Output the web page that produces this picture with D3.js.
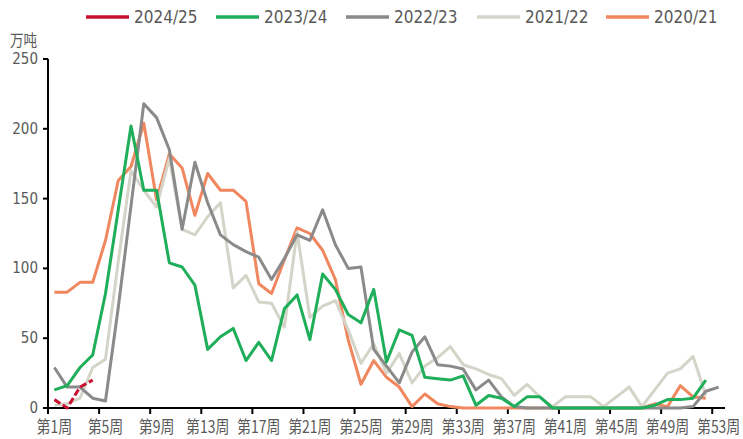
<!DOCTYPE html>
<html><head><meta charset="utf-8">
<script src="https://cdn.jsdelivr.net/npm/d3@7"></script>
<style>
html,body{margin:0;padding:0;background:#fff;}
svg{display:block;}
</style></head>
<body>
<svg id="chart" width="743" height="439"></svg>
<script>
const weeks = d3.range(1, 54);
const tickWeeks = [1,5,9,13,17,21,25,29,33,37,41,45,49,53];
const yTicks = [0,50,100,150,200,250];
const seriesNames = ["2024/25","2023/24","2022/23","2021/22","2020/21"];
const seriesColors = ["#c8102e","#1fae5a","#8a8a8a","#d4d4c8","#f0875f"];

const s2425 = [6,0,15,20];
const s2324 = [13,16,29,38,82,142,202,156,156,104,101,88,42,51,57,34,47,34,71,81,49,96,85,67,61,85,33,56,52,22,21,20,23,2,9,7,1,8,8,0,0,0,0,0,0,0,0,2,6,6,7,20,null];
const s2223 = [29,15,15,7,5,72,145,218,208,185,128,176,147,124,117,112,108,92,107,124,120,142,117,100,101,42,30,18,40,51,31,30,28,13,20,8,1,0,0,0,0,0,0,0,0,0,0,0,0,0,1,12,15];
const s2122 = [2,3,7,29,35,105,170,156,144,179,128,124,137,147,86,95,76,75,58,126,65,73,77,56,32,46,25,39,18,30,36,44,31,28,24,21,9,17,8,1,8,8,8,1,8,15,1,13,25,28,37,9,null];
const s2021 = [83,83,90,90,120,163,173,204,149,182,172,138,168,156,156,148,89,82,106,129,125,113,92,49,17,34,22,15,1,10,3,1,0,0,0,0,0,0,0,0,0,0,0,0,0,0,0,3,1,16,8,7,null];
const seriesData = [s2425, s2324, s2223, s2122, s2021];

const svg = d3.select("#chart");
const x = d3.scaleBand().domain(weeks).range([48, 725]).padding(0);
const y = d3.scaleLinear().domain([0, 250]).range([408, 59]);
const cx = w => x(w) + x.bandwidth() / 2;

const txtColor = "#595959";

// axes
const yAxisG = svg.append("g").attr("transform", "translate(48,0)");
yAxisG.append("line").attr("x1",0).attr("x2",0).attr("y1",y(250)).attr("y2",y(0)).attr("stroke","#000").attr("stroke-width",2);
yAxisG.selectAll(".yt").data(yTicks).join("line")
  .attr("x1",-5).attr("x2",0).attr("y1",d=>y(d)).attr("y2",d=>y(d)).attr("stroke","#000").attr("stroke-width",2);
yAxisG.selectAll(".yl").data(yTicks).join("text")
  .attr("x",-10).attr("y",d=>y(d)+5)
  .attr("text-anchor","end")
  .attr("font-family","'Liberation Sans Narrow','DejaVu Sans Condensed',sans-serif")
  .attr("font-size",15).attr("fill",txtColor).text(d=>d);

const xAxisG = svg.append("g");
xAxisG.append("line").attr("x1",47).attr("x2",725).attr("y1",408).attr("y2",408).attr("stroke","#000").attr("stroke-width",2);
xAxisG.selectAll(".xt").data(tickWeeks).join("line")
  .attr("x1",d=>x(d)).attr("x2",d=>x(d)).attr("y1",408).attr("y2",414).attr("stroke","#000").attr("stroke-width",2);
xAxisG.selectAll(".xl").data(tickWeeks).join("text")
  .attr("transform",d=>`translate(${cx(d)},433) scale(0.82,1)`)
  .attr("text-anchor","middle")
  .attr("font-family","'Noto Sans CJK SC',sans-serif")
  .attr("font-size",17).attr("fill",txtColor).text(d=>"第"+d+"周");

// unit
svg.append("text").attr("transform","translate(10,46) scale(0.85,1)")
  .attr("font-family","'Noto Sans CJK SC',sans-serif").attr("font-size",16).attr("fill",txtColor).text("万吨");

// lines
const line = d3.line().defined(d=>d[1]!=null).x(d=>cx(d[0])).y(d=>y(d[1]));
for (let i = seriesData.length - 1; i >= 0; i--) {
  const pts = seriesData[i].map((v,k)=>[weeks[k], v]);
  svg.append("path").datum(pts).attr("d", line)
    .attr("fill","none").attr("stroke",seriesColors[i]).attr("stroke-width",3)
    .attr("stroke-linejoin","round")
    .attr("stroke-dasharray", i===0 ? "7,3" : null);
}

// legend
const legX = [86,216,346,477,606];
const lg = svg.selectAll(".leg").data(seriesNames).join("g").attr("transform",(d,i)=>`translate(${legX[i]},17)`);
lg.append("line").attr("x1",0).attr("x2",43).attr("y1",0).attr("y2",0)
  .attr("stroke",(d,i)=>seriesColors[i]).attr("stroke-width",3.5);
lg.append("text").attr("x",48).attr("y",6)
  .attr("font-family","'Liberation Sans Narrow','DejaVu Sans Condensed',sans-serif")
  .attr("font-size",17).attr("fill","#595959").text(d=>d);
</script>
</body></html>
